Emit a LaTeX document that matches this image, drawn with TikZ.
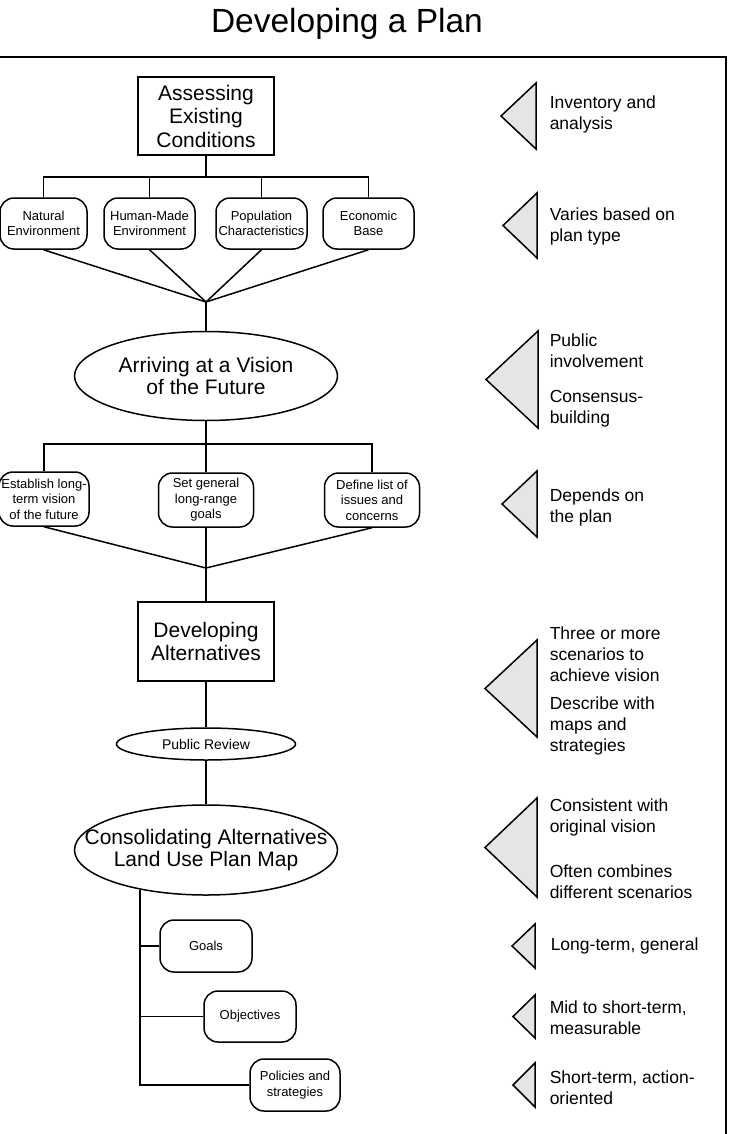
\documentclass[tikz,border=0pt]{standalone}
\usepackage{fontspec}
\setmainfont{Liberation Sans}
\usetikzlibrary{shapes.geometric}

\begin{document}
\begin{tikzpicture}[x=1pt,y=-1pt,line width=1.5pt,
        box/.style={draw,rectangle,minimum width=136pt,minimum height=78pt,inner sep=0pt,align=center,font=\fontsize{21}{23.5}\selectfont},
        oval/.style={draw,ellipse,inner sep=0pt,align=center,font=\fontsize{21}{22.5}\selectfont},
        pill/.style={draw,rounded corners=14pt,inner sep=0pt,align=center,font=\fontsize{13}{15.5}\selectfont},
        note/.style={anchor=west,align=left,inner sep=0pt,font=\fontsize{17.5}{21}\selectfont},
        marker/.style={draw,fill=gray!20,line join=miter}]
        \useasboundingbox (0,0) rectangle (733,1134);
        \node[anchor=base,font=\fontsize{33.5}{36}\selectfont] (title) at (347,33) {Developing a Plan};
        \draw (-5,57) rectangle (726,1145);
        % left column
        \node[box] (assess) at (206,116) {Assessing\\Existing\\Conditions};
        \node[pill,minimum width=87pt,minimum height=51pt] (natural) at (43.5,223.5) {Natural\\Environment};
        \node[pill,minimum width=91pt,minimum height=51pt] (human) at (149.5,223.5) {Human-Made\\Environment};
        \node[pill,minimum width=91pt,minimum height=51pt] (people) at (261.5,223.5) {Population\\Characteristics};
        \node[pill,minimum width=91pt,minimum height=51pt] (economy) at (368.5,223.5) {Economic\\Base};
        \coordinate (bus1) at (206,177);
        \coordinate (J1) at (206,302);
        \node[oval,minimum width=263pt,minimum height=89pt] (vision) at (206,376) {Arriving at a Vision\\of the Future};
        \node[pill,minimum width=90pt,minimum height=54pt] (longterm) at (44,499) {Establish long-\\term vision\\of the future};
        \node[pill,minimum width=95pt,minimum height=54pt] (goalset) at (206,500) {Set general\\long-range\\goals};
        \node[pill,minimum width=95pt,minimum height=54pt] (issues) at (372,500) {Define list of\\issues and\\concerns};
        \coordinate (bus2) at (206,444);
        \coordinate (J2) at (206,568);
        \node[box,minimum height=79pt] (altern) at (206,641.5) {Developing\\Alternatives};
        \node[oval,minimum width=179pt,minimum height=32pt,font=\fontsize{14}{16}\selectfont] (review) at (206,744) {Public Review};
        \node[oval,minimum width=263pt,minimum height=90pt,inner xsep=-30pt] (consol) at (206,850) {Consolidating Alternatives\\Land Use Plan Map};
        \node[pill,minimum width=92pt,minimum height=52pt] (goals) at (206,946) {Goals};
        \node[pill,minimum width=92pt,minimum height=51pt] (objectives) at (250,1016.5) {Objectives};
        \node[pill,minimum width=90pt,minimum height=52pt] (policies) at (295,1085) {Policies and\\strategies};
        % connectors
        \draw (assess) -- (bus1);
        \draw (natural.north) |- (bus1) -| (economy.north);
        \draw (human.north) -- (human.north |- bus1);
        \draw (people.north) -- (people.north |- bus1);
        \draw (natural.south) -- (J1);
        \draw (human.south) -- (J1);
        \draw (people.south) -- (J1);
        \draw (economy.south) -- (J1);
        \draw (J1) -- (vision);
        \draw (vision) -- (goalset);
        \draw (longterm.north) |- (bus2) -| (issues.north);
        \draw (longterm.south) -- (J2);
        \draw (issues.south) -- (J2);
        \draw (goalset) -- (altern);
        \draw (altern) -- (review);
        \draw (review) -- (consol);
        \draw (consol.211) |- (policies.west);
        \draw (goals.west) -- (goals.west -| consol.211);
        \draw (objectives.west) -- (objectives.west -| consol.211);
        % right column
        \draw[marker] (536,83) -- (501,116) -- (536,149) -- cycle;
        \node[note] (inventory) at (549,114) {Inventory and\\analysis};
        \draw[marker] (537,193) -- (503,225.5) -- (537,258) -- cycle;
        \node[note] (varies) at (549,226.5) {Varies based on\\plan type};
        \draw[marker] (538,331) -- (486,379.5) -- (538,428) -- cycle;
        \node[note] (involve) at (549,350.5) {Public\\involvement};
        \node[note] (consensus) at (549,409) {Consensus-\\building};
        \draw[marker] (537,471) -- (502,504) -- (537,537) -- cycle;
        \node[note] (depends) at (549,507.5) {Depends on\\the plan};
        \draw[marker] (537,640) -- (485,688.5) -- (537,737) -- cycle;
        \node[note] (scenarios) at (549,654.5) {Three or more\\scenarios to\\achieve vision};
        \node[note] (describe) at (549,726) {Describe with\\maps and\\strategies};
        \draw[marker] (537,798) -- (485,847.5) -- (537,897) -- cycle;
        \node[note] (consistent) at (549,817.5) {Consistent with\\original vision};
        \node[note] (combines) at (549,881.5) {Often combines\\different scenarios};
        \draw[marker] (535,924) -- (512,946) -- (535,968) -- cycle;
        \node[note] (general) at (550,946) {Long-term, general};
        \draw[marker] (535,995) -- (513,1016.5) -- (535,1038) -- cycle;
        \node[note] (measurable) at (549,1017.5) {Mid to short-term,\\measurable};
        \draw[marker] (535,1063) -- (513,1085) -- (535,1107) -- cycle;
        \node[note] (action) at (549,1087.5) {Short-term, action-\\oriented};
    \end{tikzpicture}
\end{document}
